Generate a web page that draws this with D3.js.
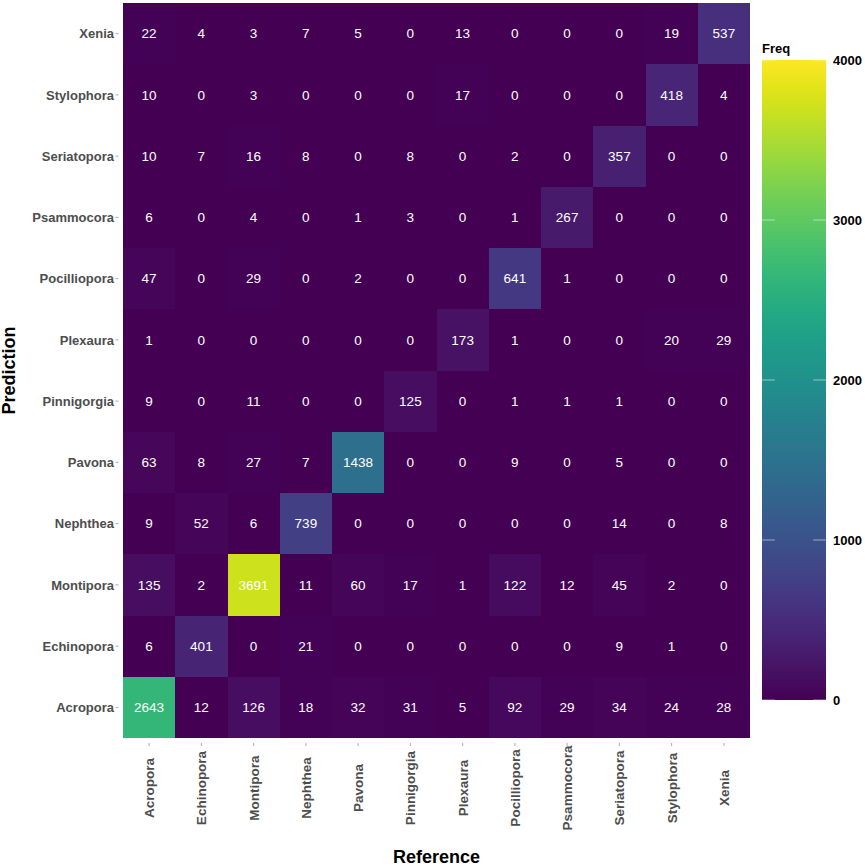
<!DOCTYPE html>
<html><head><meta charset="utf-8">
<script src="https://cdn.jsdelivr.net/npm/d3@7"></script>
<style>body{margin:0;background:#fff;} text{font-family:"Liberation Sans",Arial,sans-serif;}</style>
</head><body>
<svg id="c" width="865" height="866"></svg>
<script>
const reference = ["Acropora","Echinopora","Montipora","Nephthea","Pavona","Pinnigorgia","Plexaura","Pocilliopora","Psammocora","Seriatopora","Stylophora","Xenia"];
const prediction = ["Acropora","Echinopora","Montipora","Nephthea","Pavona","Pinnigorgia","Plexaura","Pocilliopora","Psammocora","Seriatopora","Stylophora","Xenia"];
// rows: prediction, cols: reference
const freqAcropora     = [2643,12,126,18,32,31,5,92,29,34,24,28];
const freqEchinopora   = [6,401,0,21,0,0,0,0,0,9,1,0];
const freqMontipora    = [135,2,3691,11,60,17,1,122,12,45,2,0];
const freqNephthea     = [9,52,6,739,0,0,0,0,0,14,0,8];
const freqPavona       = [63,8,27,7,1438,0,0,9,0,5,0,0];
const freqPinnigorgia  = [9,0,11,0,0,125,0,1,1,1,0,0];
const freqPlexaura     = [1,0,0,0,0,0,173,1,0,0,20,29];
const freqPocilliopora = [47,0,29,0,2,0,0,641,1,0,0,0];
const freqPsammocora   = [6,0,4,0,1,3,0,1,267,0,0,0];
const freqSeriatopora  = [10,7,16,8,0,8,0,2,0,357,0,0];
const freqStylophora   = [10,0,3,0,0,0,17,0,0,0,418,4];
const freqXenia        = [22,4,3,7,5,0,13,0,0,0,19,537];
const legendTicks = [0,1000,2000,3000,4000];

const rows = [freqAcropora,freqEchinopora,freqMontipora,freqNephthea,freqPavona,freqPinnigorgia,freqPlexaura,freqPocilliopora,freqPsammocora,freqSeriatopora,freqStylophora,freqXenia];
const cells = [];
prediction.forEach((p,i)=>reference.forEach((r,j)=>cells.push({pred:p, ref:r, v:rows[i][j]})));

const svg = d3.select("#c");
const L=123, R=750, T=3, B=738;
const x = d3.scaleBand().domain(reference).range([L,R]);
const y = d3.scaleBand().domain(prediction.slice().reverse()).range([T,B]);
const color = d3.scaleSequential(d3.interpolateViridis).domain([0,4000]);

// background of panel in base colour to avoid seams
svg.append("rect").attr("x",L).attr("y",T).attr("width",R-L).attr("height",B-T).attr("fill",color(0));
svg.append("g").attr("shape-rendering","crispEdges").selectAll("rect").data(cells).join("rect")
  .attr("x",d=>Math.round(x(d.ref))).attr("y",d=>Math.round(y(d.pred)))
  .attr("width",d=>Math.round(x(d.ref)+x.bandwidth())-Math.round(x(d.ref)))
  .attr("height",d=>Math.round(y(d.pred)+y.bandwidth())-Math.round(y(d.pred)))
  .attr("fill",d=>color(d.v));

svg.append("g").selectAll("text").data(cells).join("text")
  .attr("x",d=>x(d.ref)+x.bandwidth()/2).attr("y",d=>y(d.pred)+y.bandwidth()/2)
  .attr("dy","0.36em").attr("text-anchor","middle")
  .attr("fill","#fff").attr("font-size",13.5)
  .text(d=>d.v);

// y axis
const ya = svg.append("g");
prediction.forEach(p=>{
  const cy = y(p)+y.bandwidth()/2;
  ya.append("line").attr("x1",115.5).attr("x2",118.5).attr("y1",cy).attr("y2",cy).attr("stroke","#aaa").attr("stroke-width",1);
  ya.append("text").attr("x",114).attr("y",cy).attr("dy","0.36em").attr("text-anchor","end")
    .attr("font-weight","bold").attr("font-size",13).attr("fill","#4d4d4d").text(p);
});
// x axis
const xa = svg.append("g");
reference.forEach(r=>{
  const cx = x(r)+x.bandwidth()/2;
  xa.append("line").attr("x1",cx).attr("x2",cx).attr("y1",743).attr("y2",746).attr("stroke","#aaa").attr("stroke-width",1);
  xa.append("text").attr("transform",`translate(${cx+5},788) rotate(-90)`).attr("text-anchor","middle")
    .attr("font-weight","bold").attr("font-size",13.5).attr("fill","#4d4d4d").text(r);
});

svg.append("text").attr("x",(L+R)/2).attr("y",863).attr("text-anchor","middle")
  .attr("font-weight","bold").attr("font-size",18).attr("fill","#000").text("Reference");
svg.append("text").attr("transform",`translate(15,${(T+B)/2}) rotate(-90)`).attr("text-anchor","middle")
  .attr("font-weight","bold").attr("font-size",18).attr("fill","#000").text("Prediction");

// legend
const lx=762, lw=64, lt=60, lb=700;
const ls = d3.scaleLinear().domain([0,4000]).range([lb,lt]);
const defs = svg.append("defs");
const grad = defs.append("linearGradient").attr("id","g").attr("x1",0).attr("x2",0).attr("y1",1).attr("y2",0);
d3.range(0,1.0001,0.05).forEach(t=>grad.append("stop").attr("offset",t).attr("stop-color",color(t*4000)));
svg.append("rect").attr("x",lx).attr("y",lt).attr("width",lw).attr("height",lb-lt).attr("fill","url(#g)");
legendTicks.forEach(t=>{
  const ty = ls(t);
  svg.append("line").attr("x1",lx).attr("x2",lx+lw/5).attr("y1",ty).attr("y2",ty).attr("stroke","#fff").attr("stroke-opacity",0.5);
  svg.append("line").attr("x1",lx+lw*4/5).attr("x2",lx+lw).attr("y1",ty).attr("y2",ty).attr("stroke","#fff").attr("stroke-opacity",0.5);
  svg.append("text").attr("x",833).attr("y",ty).attr("dy","0.36em").attr("font-weight","bold")
    .attr("font-size",13).attr("fill","#000").text(t);
});
svg.append("text").attr("x",762).attr("y",53).attr("font-weight","bold").attr("font-size",13).attr("fill","#000").text("Freq");
</script>
</body></html>
